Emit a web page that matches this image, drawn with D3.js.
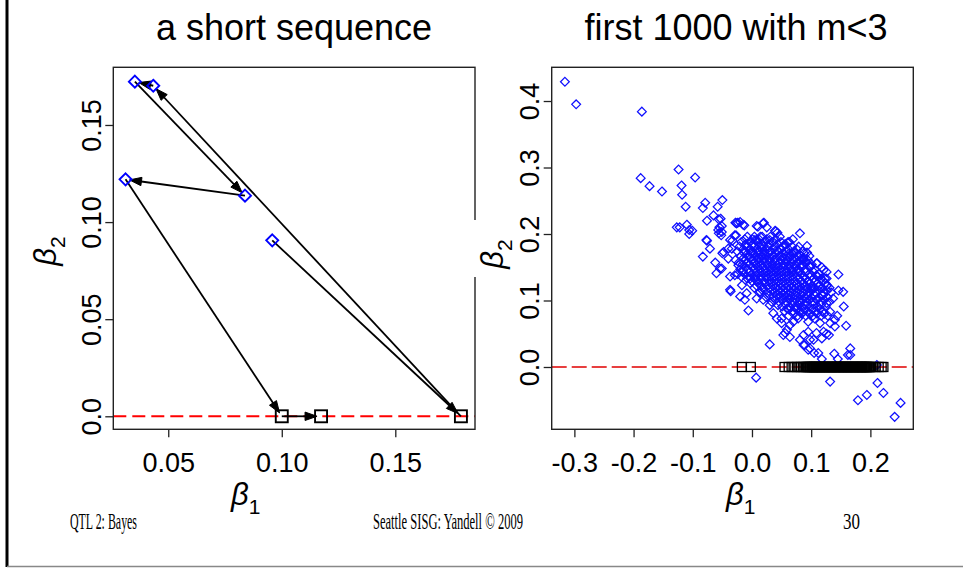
<!DOCTYPE html>
<html><head><meta charset="utf-8">
<script src="https://cdn.jsdelivr.net/npm/d3@7"></script>
<style>
body{margin:0;background:#fff;}
svg{display:block;}
</style>
</head><body>
<svg id="c" width="963" height="569"></svg>
<script>
// ---------- data ----------
// left panel: a short MCMC sequence (beta1, beta2); beta2 == 0 drawn as squares
const seqBeta1 = [0.0958, 0.1789, 0.0434, 0.0353, 0.0838, 0.0312, 0.1000, 0.1173];
const seqBeta2 = [0.0906, 0.0000, 0.1702, 0.1723, 0.1136, 0.1220, 0.0000, 0.0000];

const leftXTicks = [0.05, 0.10, 0.15];
const leftXTickLabels = ["0.05", "0.10", "0.15"];
const leftYTicks = [0, 0.05, 0.10, 0.15];
const leftYTickLabels = ["0.0", "0.05", "0.10", "0.15"];

const rightXTicks = [-0.3, -0.2, -0.1, 0, 0.1, 0.2];
const rightXTickLabels = ["-0.3", "-0.2", "-0.1", "0.0", "0.1", "0.2"];
const rightYTicks = [0, 0.1, 0.2, 0.3, 0.4];
const rightYTickLabels = ["0.0", "0.1", "0.2", "0.3", "0.4"];

const titles = ["a short sequence", "first 1000 with m<3"];
const footer = ["QTL 2: Bayes", "Seattle SISG: Yandell \u00A9 2009", "30"];

// right panel: first 1000 samples, points with beta2 != 0 (diamonds)
const mcmcDiamonds = [
[-0.316,0.429],[-0.297,0.395],[-0.186,0.384],[-0.188,0.284],[-0.173,0.272],[-0.152,0.264],[-0.124,0.297],[-0.119,0.273],
[-0.118,0.259],[-0.096,0.285],[-0.112,0.241],[-0.127,0.210],[-0.122,0.210],[-0.110,0.214],[-0.106,0.206],[-0.101,0.205],
[-0.106,0.200],[-0.079,0.247],[-0.083,0.239],[-0.058,0.241],[-0.050,0.251],[-0.065,0.228],[-0.076,0.220],[-0.056,0.222],
[-0.053,0.223],[-0.051,0.212],[-0.057,0.206],[-0.056,0.201],[-0.052,0.198],[-0.076,0.190],[-0.071,0.178],[-0.083,0.166],
[-0.062,0.157],[-0.060,0.141],[-0.054,0.148],[-0.037,0.136],[-0.036,0.114],[-0.050,0.171],[-0.040,0.178],[-0.033,0.190],
[-0.027,0.198],[-0.024,0.217],[-0.013,0.213],[-0.028,0.217],[-0.006,0.085],[-0.020,0.106],[-0.012,0.101],[0.030,0.034],
[0.010,0.211],[0.019,0.216],[0.025,0.210],[0.040,0.204],[0.081,0.201],[0.093,0.182],[0.093,0.172],[0.086,0.162],
[0.088,0.158],[0.098,0.151],[0.110,0.156],[0.121,0.146],[0.126,0.133],[0.146,0.139],[0.146,0.115],[0.154,0.113],
[0.155,0.091],[0.144,0.077],[0.159,0.062],[0.130,0.048],[0.126,0.050],[0.140,0.061],[0.132,0.066],[0.121,0.053],
[0.109,0.051],[0.098,0.041],[0.087,0.048],[0.081,0.041],[0.089,0.033],[0.095,0.026],[0.105,0.021],[0.118,0.012],
[0.139,0.020],[0.145,0.012],[0.166,0.028],[0.162,0.018],[0.211,0.003],[0.132,-0.022],[0.007,-0.016],[0.212,-0.024],
[0.222,-0.039],[0.194,-0.042],[0.179,-0.050],[0.251,-0.054],[0.241,-0.075],[0.056,0.051],[0.064,0.045],[0.050,0.066],
[-0.055,0.210],[-0.051,0.203],[-0.026,0.216],[-0.015,0.214],[-0.020,0.218],[-0.077,0.191],[-0.051,0.148],[-0.037,0.116],
[-0.048,0.173],[-0.034,0.178],[-0.029,0.198],[-0.037,0.191],[-0.040,0.163],[-0.023,0.153],[-0.029,0.138],[-0.012,0.183],
[-0.003,0.176],[0.008,0.191],[-0.006,0.166],[0.005,0.158],[-0.015,0.146],[-0.003,0.133],[-0.017,0.123],[-0.009,0.111],
[0.008,0.131],[0.008,0.212],[0.020,0.217],[0.039,0.205],[0.043,0.202],[0.069,0.192],[0.061,0.188],[0.056,0.183],
[0.081,0.168],[0.087,0.161],[0.109,0.156],[0.099,0.151],[0.118,0.150],[0.126,0.143],[0.123,0.133],[0.109,0.138],
[0.127,0.123],[0.005,0.191],[0.014,0.196],[0.030,0.191],[0.019,0.181],[0.042,0.176],[0.002,0.171],[0.050,0.166],
[0.067,0.171],[0.076,0.156],[0.064,0.148],[0.081,0.143],[0.095,0.128],[0.112,0.121],[0.101,0.118],[0.140,0.071],
[0.132,0.083],[0.126,0.096],[0.118,0.043],[0.104,0.041],[0.095,0.053],[0.087,0.033],[0.098,0.028],[0.112,0.021],
[0.166,0.018],[0.053,0.048],[0.059,0.056],[0.064,0.063],[0.036,0.081],[0.042,0.073],[0.050,0.073],[0.070,0.068],
[0.078,0.073],[0.095,0.068],[0.106,0.073],[0.115,0.066],[0.104,0.088],[0.087,0.083],[0.076,0.091],[0.059,0.088],
[0.044,0.093],[0.030,0.093],[0.019,0.101],[0.008,0.103],[0.014,0.113],[0.118,0.108],[0.109,0.101],[0.137,0.103],
[0.064,0.103],[0.081,0.101],[0.092,0.103],
// dense core of the cloud
[-0.008,0.196],[0.004,0.196],[0.017,0.196],[0.031,0.196],[0.047,0.196],
[-0.012,0.192],[0.001,0.192],[0.012,0.192],[0.025,0.192],[0.040,0.192],
[-0.018,0.188],[-0.004,0.188],[0.009,0.188],[0.022,0.188],[0.036,0.188],[0.049,0.188],[0.063,0.188],
[-0.010,0.185],[0.002,0.185],[0.016,0.185],[0.029,0.185],[0.043,0.185],[0.056,0.185],
[-0.021,0.181],[-0.008,0.181],[0.003,0.181],[0.013,0.181],[0.027,0.181],[0.039,0.181],[0.052,0.181],[0.068,0.181],[0.079,0.181],
[-0.015,0.177],[-0.003,0.177],[0.007,0.177],[0.017,0.177],[0.026,0.177],[0.037,0.177],[0.049,0.177],[0.062,0.177],[0.076,0.177],
[-0.025,0.174],[-0.011,0.174],[0.001,0.174],[0.011,0.174],[0.021,0.174],[0.031,0.174],[0.044,0.174],[0.057,0.174],[0.071,0.174],[0.085,0.174],
[-0.013,0.171],[-0.001,0.171],[0.010,0.171],[0.020,0.171],[0.029,0.171],[0.040,0.171],[0.052,0.171],[0.063,0.171],[0.072,0.171],[0.088,0.171],
[-0.019,0.167],[-0.007,0.167],[0.006,0.167],[0.016,0.167],[0.024,0.167],[0.035,0.167],[0.046,0.167],[0.058,0.167],[0.066,0.167],[0.077,0.167],[0.097,0.167],
[-0.014,0.164],[-0.002,0.164],[0.011,0.164],[0.021,0.164],[0.030,0.164],[0.041,0.164],[0.052,0.164],[0.063,0.164],[0.073,0.164],[0.087,0.164],
[-0.028,0.161],[-0.012,0.161],[0.000,0.161],[0.010,0.161],[0.020,0.161],[0.029,0.161],[0.038,0.161],[0.049,0.161],[0.059,0.161],[0.070,0.161],[0.081,0.161],[0.094,0.161],
[-0.022,0.157],[-0.009,0.157],[0.003,0.157],[0.012,0.157],[0.022,0.157],[0.031,0.157],[0.039,0.157],[0.048,0.157],[0.058,0.157],[0.067,0.157],[0.078,0.157],[0.092,0.157],
[-0.016,0.154],[-0.004,0.154],[0.007,0.154],[0.016,0.154],[0.026,0.154],[0.034,0.154],[0.043,0.154],[0.053,0.154],[0.062,0.154],[0.072,0.154],[0.085,0.154],[0.101,0.154],
[-0.011,0.150],[0.001,0.150],[0.010,0.150],[0.019,0.150],[0.029,0.150],[0.037,0.150],[0.045,0.150],[0.053,0.150],[0.062,0.150],[0.073,0.150],[0.084,0.150],[0.098,0.150],
[-0.020,0.147],[-0.007,0.147],[0.004,0.147],[0.013,0.147],[0.022,0.147],[0.031,0.147],[0.040,0.147],[0.048,0.147],[0.057,0.147],[0.067,0.147],[0.078,0.147],[0.090,0.147],[0.106,0.147],
[-0.016,0.143],[-0.004,0.143],[0.007,0.143],[0.016,0.143],[0.025,0.143],[0.033,0.143],[0.041,0.143],[0.050,0.143],[0.059,0.143],[0.068,0.143],[0.078,0.143],[0.090,0.143],[0.104,0.143],
[-0.024,0.140],[-0.012,0.140],[0.000,0.140],[0.010,0.140],[0.019,0.140],[0.028,0.140],[0.036,0.140],[0.045,0.140],[0.054,0.140],[0.063,0.140],[0.072,0.140],[0.083,0.140],[0.097,0.140],[0.113,0.140],
[-0.018,0.136],[-0.004,0.136],[0.006,0.136],[0.015,0.136],[0.024,0.136],[0.032,0.136],[0.040,0.136],[0.049,0.136],[0.058,0.136],[0.067,0.136],[0.076,0.136],[0.087,0.136],[0.099,0.136],[0.110,0.136],
[-0.008,0.133],[0.005,0.133],[0.015,0.133],[0.025,0.133],[0.034,0.133],[0.042,0.133],[0.051,0.133],[0.060,0.133],[0.069,0.133],[0.079,0.133],[0.091,0.133],[0.104,0.133],[0.117,0.133],
[0.000,0.129],[0.010,0.129],[0.020,0.129],[0.029,0.129],[0.038,0.129],[0.046,0.129],[0.055,0.129],[0.064,0.129],[0.073,0.129],[0.083,0.129],[0.094,0.129],[0.107,0.129],[0.120,0.129],
[-0.003,0.126],[0.011,0.126],[0.022,0.126],[0.031,0.126],[0.040,0.126],[0.049,0.126],[0.058,0.126],[0.067,0.126],[0.076,0.126],[0.087,0.126],[0.098,0.126],[0.111,0.126],[0.124,0.126],
[0.008,0.122],[0.016,0.122],[0.026,0.122],[0.035,0.122],[0.044,0.122],[0.053,0.122],[0.062,0.122],[0.071,0.122],[0.080,0.122],[0.090,0.122],[0.101,0.122],[0.113,0.122],[0.126,0.122],
[0.004,0.119],[0.018,0.119],[0.029,0.119],[0.039,0.119],[0.048,0.119],[0.057,0.119],[0.066,0.119],[0.075,0.119],[0.085,0.119],[0.094,0.119],[0.106,0.119],[0.119,0.119],[0.131,0.119],
[0.018,0.115],[0.033,0.115],[0.043,0.115],[0.052,0.115],[0.061,0.115],[0.071,0.115],[0.081,0.115],[0.091,0.115],[0.101,0.115],[0.113,0.115],[0.127,0.115],
[0.012,0.112],[0.026,0.112],[0.038,0.112],[0.048,0.112],[0.057,0.112],[0.066,0.112],[0.076,0.112],[0.086,0.112],[0.096,0.112],[0.107,0.112],[0.121,0.112],[0.134,0.112],
[0.030,0.108],[0.042,0.108],[0.053,0.108],[0.063,0.108],[0.073,0.108],[0.083,0.108],[0.094,0.108],[0.106,0.108],[0.120,0.108],
[0.024,0.105],[0.036,0.105],[0.047,0.105],[0.058,0.105],[0.068,0.105],[0.078,0.105],[0.089,0.105],[0.100,0.105],[0.113,0.105],[0.127,0.105],
[0.040,0.101],[0.052,0.101],[0.063,0.101],[0.074,0.101],[0.086,0.101],[0.097,0.101],[0.109,0.101],[0.122,0.101],
[0.033,0.098],[0.046,0.098],[0.058,0.098],[0.069,0.098],[0.080,0.098],[0.092,0.098],[0.103,0.098],[0.117,0.098],[0.131,0.098],
[0.057,0.094],[0.068,0.094],[0.079,0.094],[0.090,0.094],[0.104,0.094],[0.117,0.094],
[0.051,0.091],[0.064,0.091],[0.073,0.091],[0.084,0.091],[0.097,0.091],[0.111,0.091],[0.124,0.091],
[0.062,0.087],[0.075,0.087],[0.088,0.087],[0.101,0.087],[0.114,0.087],
[0.055,0.084],[0.069,0.084],[0.081,0.084],[0.094,0.084],[0.108,0.084],[0.120,0.084],
[0.070,0.080],[0.084,0.080],[0.097,0.080],[0.110,0.080],[0.122,0.080],
[0.062,0.077],[0.077,0.077],[0.091,0.077],[0.103,0.077],[0.117,0.077],[0.128,0.077]
];

// right panel: beta1 of samples with beta2 == 0 (squares on the zero line)
const mcmcSquares = [-0.017,-0.002,0.055,0.062,0.067,0.072,0.076,0.080,0.083,0.086,0.089,
0.092,0.093,0.094,0.0955,0.097,0.098,0.099,0.1005,0.102,0.103,0.104,0.105,0.106,0.1075,0.109,0.110,
0.111,0.1125,0.114,0.115,0.116,0.117,0.118,0.1195,0.121,0.122,0.123,0.124,0.125,0.1265,0.128,0.129,
0.130,0.1315,0.133,0.134,0.135,0.136,0.137,0.1385,0.140,0.141,0.142,0.143,0.144,0.1455,0.147,0.148,
0.149,0.1505,0.152,0.153,0.154,0.155,0.156,0.1575,0.159,0.160,0.161,0.162,0.163,0.1645,0.166,0.167,
0.168,0.1695,0.171,0.172,0.173,0.174,0.175,0.1765,0.178,0.179,0.180,0.1815,0.183,0.184,0.185,0.186,
0.187,0.1885,0.190,0.191,0.192,0.193,0.194,0.1955,0.197,0.198,0.199,0.201,
0.204,0.209,0.214,0.219,0.222];

// ---------- drawing ----------
const sans = "'Liberation Sans', Arial, sans-serif";
const serif = "'Liberation Serif', 'Times New Roman', serif";
const svg = d3.select("#c");
svg.append("rect").attr("width",963).attr("height",569).attr("fill","#fff");

function diamondPath(r){ return `M0,${-r}L${r},0L0,${r}L${-r},0Z`; }

function drawPanel(o){
  const g = svg.append("g");
  const x = d3.scaleLinear().domain(o.xDomain).range([o.left, o.right]);
  const y = d3.scaleLinear().domain(o.yDomain).range([o.bottom, o.top]);

  // zero line
  g.append("line").attr("x1",o.left).attr("x2",o.right)
    .attr("y1",y(0)).attr("y2",y(0))
    .attr("stroke",o.zeroColor).attr("stroke-width",o.zeroWidth)
    .attr("stroke-dasharray",o.zeroDash);

  o.drawMarks(g, x, y);

  // box
  g.append("rect").attr("x",o.left).attr("y",o.top)
    .attr("width",o.right-o.left).attr("height",o.bottom-o.top)
    .attr("fill","none").attr("stroke","#222").attr("stroke-width",1.4);

  // x axis
  const xa = g.append("g").attr("transform",`translate(0,${o.bottom})`)
    .call(d3.axisBottom(x).tickValues(o.xTicks).tickSize(8)
      .tickFormat((d,i)=>o.xTickLabels[i]));
  xa.select(".domain").remove();
  xa.selectAll(".tick line").attr("stroke","#222").attr("stroke-width",1.3);
  xa.selectAll(".tick text").attr("y",43).attr("dy",0)
    .style("font-size","27px").style("font-family",sans).attr("fill","#000");

  // y axis
  const ya = g.append("g").attr("transform",`translate(${o.left},0)`)
    .call(d3.axisLeft(y).tickValues(o.yTicks).tickSize(8)
      .tickFormat((d,i)=>o.yTickLabels[i]));
  ya.select(".domain").remove();
  ya.selectAll(".tick line").attr("stroke","#222").attr("stroke-width",1.3);
  ya.selectAll(".tick text").attr("transform","rotate(-90)")
    .attr("x",0).attr("y",-12.5).attr("dy",0).attr("text-anchor","middle")
    .style("font-size","27px").style("font-family",sans).attr("fill","#000");

  // title
  g.append("text").attr("x",o.titleX).attr("y",40).attr("text-anchor","middle")
    .style("font-family",sans).style("font-size","36px").text(o.title);

  // x label beta_1
  const xl = g.append("text").attr("x",o.xLabelX).attr("y",505)
    .style("font-family",sans).style("font-size","31px");
  xl.append("tspan").style("font-style","italic").text("\u03B2");
  xl.append("tspan").style("font-size","21px").attr("dy",9).text("1");

  // y label beta_2
  if(o.yLabelBg){
    svg.append("rect").attr("x",o.yLabelBg[0]).attr("y",o.yLabelBg[1])
      .attr("width",o.yLabelBg[2]).attr("height",o.yLabelBg[3]).attr("fill","#fff");
  }
  const yl = svg.append("text").attr("transform",`translate(${o.yLabelX},${o.yLabelY}) rotate(-90)`)
    .attr("text-anchor","middle").style("font-family",sans).style("font-size","31px");
  yl.append("tspan").style("font-style","italic").text("\u03B2");
  yl.append("tspan").style("font-size","21px").attr("dy",9).text("2");
}

// left panel
drawPanel({
  left:113.3, right:475, top:67.3, bottom:429.3,
  xDomain:[0.0258,0.1851], yDomain:[-0.0067,0.1797],
  xTicks:leftXTicks, xTickLabels:leftXTickLabels,
  yTicks:leftYTicks, yTickLabels:leftYTickLabels,
  zeroWidth:2, zeroDash:"13,6", zeroColor:"#ff0000",
  title:titles[0], titleX:294,
  xLabelX:231, yLabelX:56, yLabelY:251,
  drawMarks:(g,x,y)=>{
    const pts = seqBeta1.map((b,i)=>({b1:b,b2:seqBeta2[i]}));
    // arrows
    for(let i=0;i<pts.length-1;i++){
      const x0=x(pts[i].b1), y0=y(pts[i].b2), x1=x(pts[i+1].b1), y1=y(pts[i+1].b2);
      const dx=x1-x0, dy=y1-y0, L=Math.hypot(dx,dy), ux=dx/L, uy=dy/L;
      const tx=x1-ux*4, ty=y1-uy*4;
      const hl=12, hw=4.2;
      const bx=tx-ux*hl, by=ty-uy*hl;
      g.append("line").attr("x1",x0).attr("y1",y0).attr("x2",bx+ux*2).attr("y2",by+uy*2)
        .attr("stroke","#000").attr("stroke-width",1.8);
      g.append("path").attr("d",`M${tx},${ty}L${bx-uy*hw},${by+ux*hw}L${bx+uy*hw},${by-ux*hw}Z`)
        .attr("fill","#000").attr("stroke","#000").attr("stroke-width",1);
    }
    g.selectAll(".sq").data(pts.filter(d=>d.b2===0)).enter().append("rect")
      .attr("x",d=>x(d.b1)-6).attr("y",d=>y(d.b2)-6).attr("width",12).attr("height",12)
      .attr("fill","none").attr("stroke","#000").attr("stroke-width",1.9);
    g.selectAll(".dm").data(pts.filter(d=>d.b2!==0)).enter().append("path")
      .attr("transform",d=>`translate(${x(d.b1)},${y(d.b2)})`).attr("d",diamondPath(6))
      .attr("fill","none").attr("stroke","#0000ff").attr("stroke-width",1.9);
  }
});

// right panel
drawPanel({
  left:551.7, right:913.3, top:67.3, bottom:429.3,
  xDomain:[-0.3383,0.2725], yDomain:[-0.0937,0.4507],
  xTicks:rightXTicks, xTickLabels:rightXTickLabels,
  yTicks:rightYTicks, yTickLabels:rightYTickLabels,
  zeroWidth:1.4, zeroDash:"15,5", zeroColor:"#e00000",
  title:titles[1], titleX:736,
  xLabelX:726, yLabelX:503, yLabelY:254,
  yLabelBg:[471,220,8,57],
  drawMarks:(g,x,y)=>{
    g.selectAll(".dm").data(mcmcDiamonds).enter().append("path")
      .attr("transform",d=>`translate(${x(d[0])},${y(d[1])})`).attr("d",diamondPath(4.4))
      .attr("fill","none").attr("stroke","#1010ff").attr("stroke-width",1.25);
    g.selectAll(".sq").data(mcmcSquares).enter().append("rect")
      .attr("x",d=>x(d)-4.5).attr("y",y(0)-4.5).attr("width",9).attr("height",9)
      .attr("fill","none").attr("stroke","#000").attr("stroke-width",1.3);
  }
});

// slide frame and footer
svg.append("line").attr("x1",7).attr("x2",7).attr("y1",0).attr("y2",567)
  .attr("stroke","#000").attr("stroke-width",3);
svg.append("line").attr("x1",7).attr("x2",963).attr("y1",566.5).attr("y2",566.5)
  .attr("stroke","#888").attr("stroke-width",1.5);

const fy = 529;
const footerX = [70, 373, 843];
const footerW = [67, 150, 17];
footer.forEach((t,i)=>{
  svg.append("text").attr("x",footerX[i]).attr("y",fy)
    .style("font-family",serif).style("font-size","23px")
    .attr("textLength",footerW[i]).attr("lengthAdjust","spacingAndGlyphs").text(t);
});
</script>
</body></html>
